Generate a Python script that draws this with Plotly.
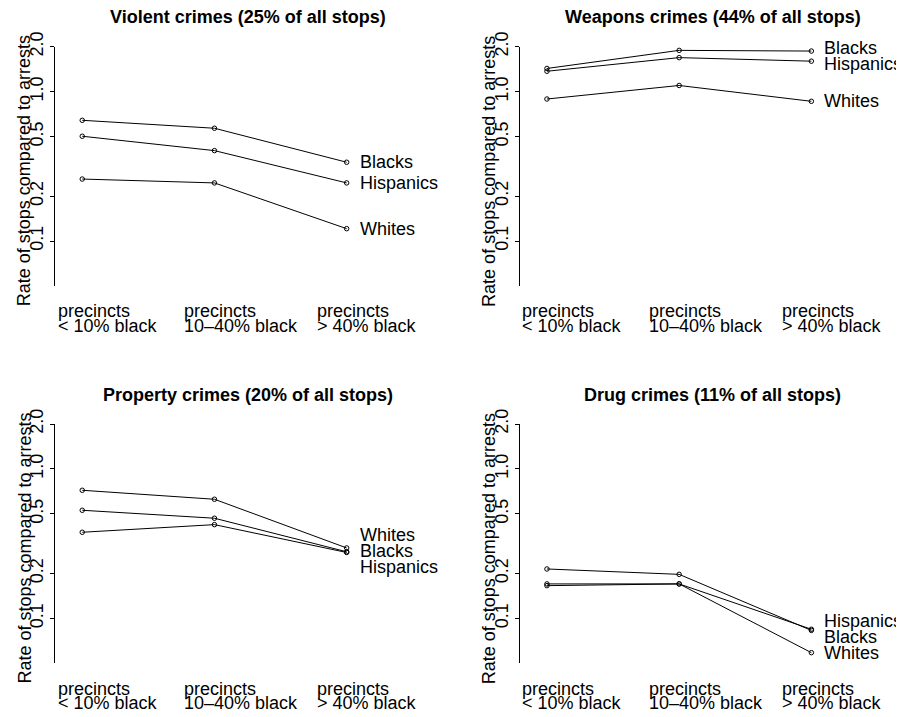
import math
import plotly.graph_objects as go

# ---------------- data ----------------
categories = ["precincts\n< 10% black", "precincts\n10–40% black", "precincts\n> 40% black"]
panel_titles = [
    "Violent crimes (25% of all stops)",
    "Weapons crimes (44% of all stops)",
    "Property crimes (20% of all stops)",
    "Drug crimes (11% of all stops)",
]
groups = ["Blacks", "Hispanics", "Whites"]

violent_blacks = [0.643, 0.569, 0.337]
violent_hispanics = [0.503, 0.403, 0.245]
violent_whites = [0.260, 0.245, 0.121]

weapons_blacks = [1.43, 1.89, 1.87]
weapons_hispanics = [1.37, 1.69, 1.60]
weapons_whites = [0.893, 1.10, 0.862]

property_blacks = [0.529, 0.468, 0.279]
property_hispanics = [0.377, 0.424, 0.276]
property_whites = [0.720, 0.627, 0.296]

drug_blacks = [0.214, 0.197, 0.0830]
drug_hispanics = [0.170, 0.170, 0.0845]
drug_whites = [0.1655, 0.170, 0.0589]

y_tick_vals = [0.1, 0.2, 0.5, 1.0, 2.0]
y_tick_text = ["0.1", "0.2", "0.5", "1.0", "2.0"]
y_limits = [0.05, 2.0]
y_title = "Rate of stops compared to arrests"

panels = [
    {"Blacks": violent_blacks, "Hispanics": violent_hispanics, "Whites": violent_whites},
    {"Blacks": weapons_blacks, "Hispanics": weapons_hispanics, "Whites": weapons_whites},
    {"Blacks": property_blacks, "Hispanics": property_hispanics, "Whites": property_whites},
    {"Blacks": drug_blacks, "Hispanics": drug_hispanics, "Whites": drug_whites},
]

# ---------------- layout geometry (page pixels) ----------------
OFF = 8                      # default body margin of the html page
W, H = 904 - OFF, 717 - OFF  # figure fits the window exactly
panel_left = [55, 519.7, 55, 519.7]
panel_top = [46.7, 46.7, 424, 424]
plot_w, plot_h = 371, 239.3
x_range = [0.794, 3.6]
label_x_offsets = [-0.2, -0.245, -0.24]
FONT = "Liberation Sans, Arial, Helvetica, sans-serif"
FS = 18


def px_x(p):
    return (p - OFF) / W


def px_y(p):
    return 1 - (p - OFF) / H


def spread(vals, gap=0.107, iters=200):
    names = sorted(vals, key=lambda k: -vals[k])
    pos = [vals[n] for n in names]
    for _ in range(iters):
        moved = False
        for i in range(len(pos) - 1):
            d = pos[i] - pos[i + 1]
            if d < gap - 1e-6:
                m = (pos[i] + pos[i + 1]) / 2
                pos[i] = m + gap / 2
                pos[i + 1] = m - gap / 2
                moved = True
        if not moved:
            break
    return dict(zip(names, pos))


fig = go.Figure()
annotations = []
xs = [1, 2, 3]

for k, data in enumerate(panels):
    idx = "" if k == 0 else str(k + 1)
    xa = "x" + idx
    ya = "y" + idx
    l, t = panel_left[k], panel_top[k]
    dom_x = [px_x(l), px_x(l + plot_w)]
    dom_y = [px_y(t + plot_h), px_y(t)]
    fig.update_layout(**{
        ("xaxis" + idx): dict(domain=dom_x, range=x_range, visible=False, anchor=ya,
                              automargin=False),
        ("yaxis" + idx): dict(
            domain=dom_y, type="log", automargin=False,
            range=[math.log10(y_limits[0]), math.log10(y_limits[1])],
            tickvals=y_tick_vals, ticktext=y_tick_text, tickangle=-90,
            ticks="outside", ticklen=4, tickwidth=1, tickcolor="black",
            showline=True, linecolor="black", linewidth=1,
            showgrid=False, zeroline=False, anchor=xa,
            tickfont=dict(family=FONT, size=FS, color="black"),
        ),
    })
    for g in groups:
        fig.add_trace(go.Scatter(
            x=xs, y=data[g], xaxis=xa, yaxis=ya, mode="lines+markers",
            line=dict(color="black", width=1),
            marker=dict(symbol="circle-open", size=4.5, color="black", line=dict(width=1)),
            showlegend=False, hoverinfo="skip",
        ))
    ends = {g: math.log10(data[g][-1]) for g in groups}
    lab = spread(ends)
    for g in groups:
        annotations.append(dict(
            x=3, y=lab[g], xref=xa, yref=ya, text=g, showarrow=False,
            xanchor="left", yanchor="middle", xshift=11,
            font=dict(family=FONT, size=FS, color="black"),
        ))
    for i, c in enumerate(categories):
        lines = c.split("\n")
        for j, line in enumerate(lines):
            base = t + 270 + j * 14.3
            annotations.append(dict(
                x=xs[i] + label_x_offsets[i], y=px_y(base - 5.5), xref=xa, yref="paper",
                text=line, showarrow=False, xanchor="left", yanchor="middle",
                font=dict(family=FONT, size=FS, color="black"),
            ))
    annotations.append(dict(
        x=px_x(l + 193), y=px_y(t - 29.5), xref="paper", yref="paper",
        text="<b>" + panel_titles[k] + "</b>", showarrow=False,
        xanchor="center", yanchor="middle",
        font=dict(family=FONT, size=FS, color="black"),
    ))
    annotations.append(dict(
        x=px_x(l - 31), y=px_y(t + 124.5), xref="paper", yref="paper",
        text=y_title, showarrow=False, textangle=-90,
        xanchor="center", yanchor="middle",
        font=dict(family=FONT, size=FS, color="black"),
    ))

fig.update_layout(
    template="none",
    width=W, height=H, margin=dict(l=0, r=0, t=0, b=0, pad=0, autoexpand=False),
    paper_bgcolor="white", plot_bgcolor="white",
    annotations=annotations, showlegend=False,
)

fig.write_html("out.html")
